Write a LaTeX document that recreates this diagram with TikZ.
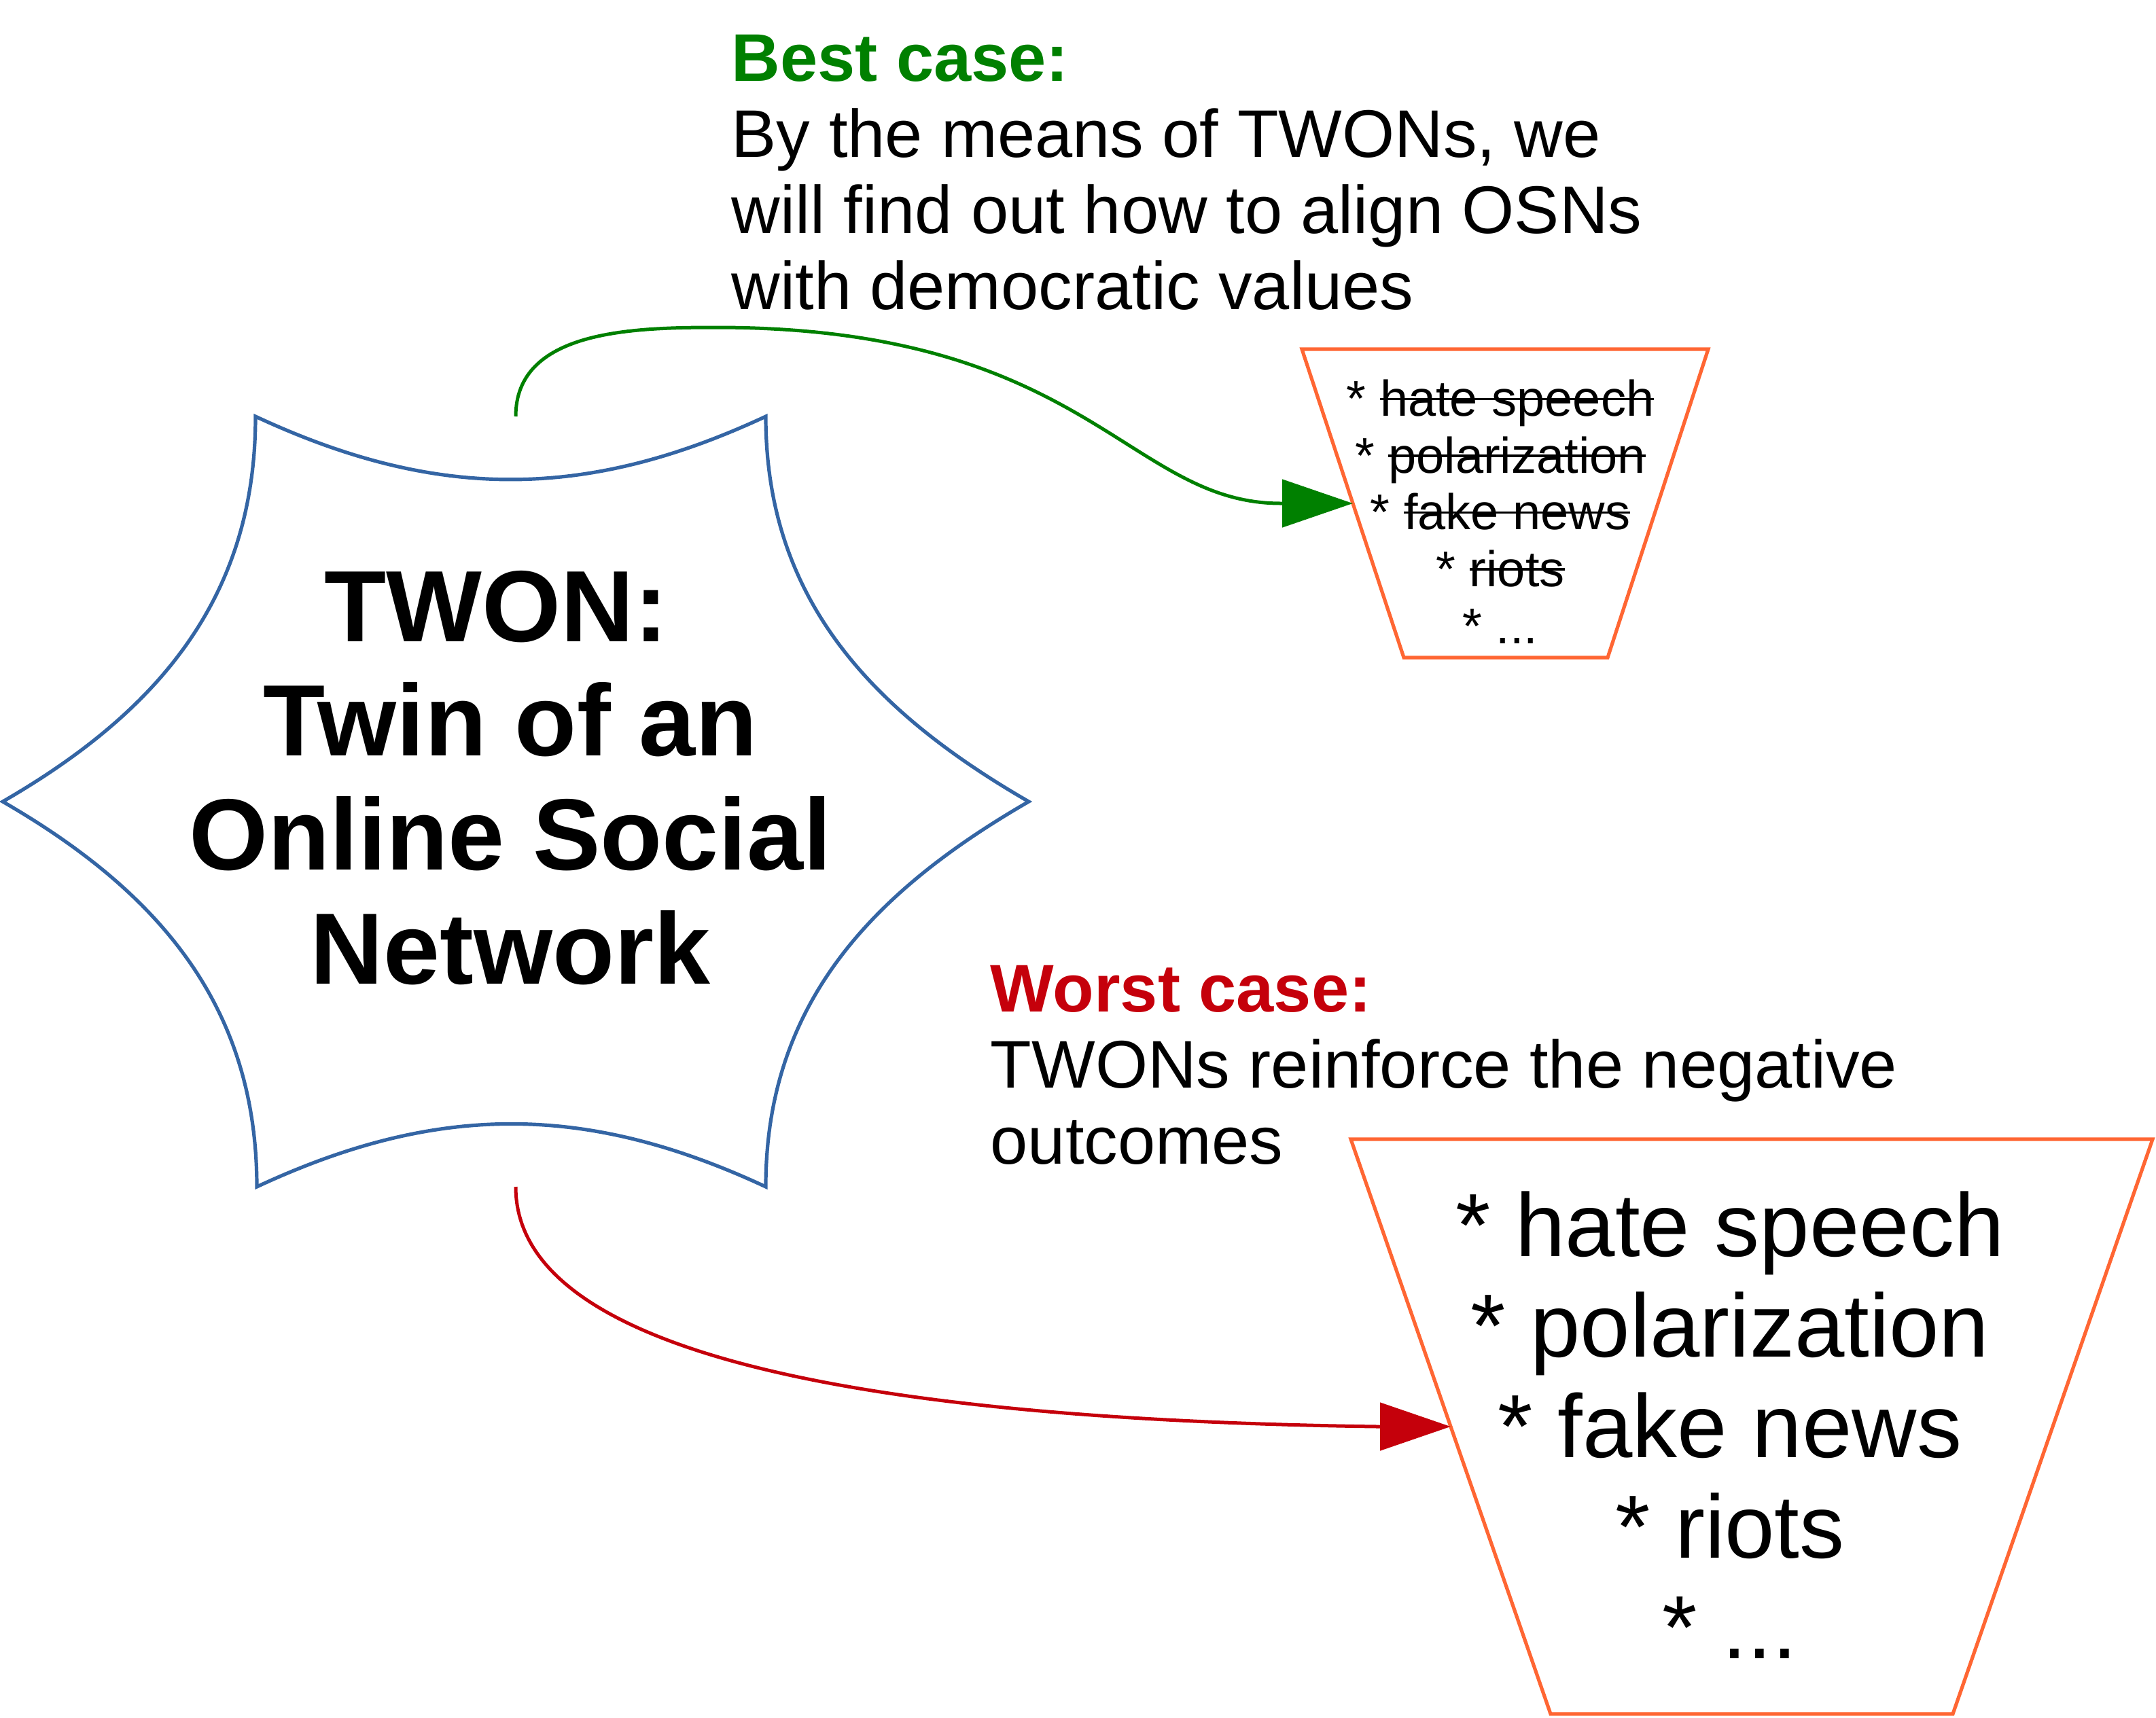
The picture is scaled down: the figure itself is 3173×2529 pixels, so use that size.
\documentclass[tikz,border=0pt]{standalone}
\usepackage{fontspec}
\setmainfont{Liberation Sans}
\usetikzlibrary{arrows.meta}
\definecolor{starblue}{HTML}{3465A4}
\definecolor{funnelorange}{HTML}{FF6633}
\definecolor{bestgreen}{HTML}{008000}
\definecolor{worstred}{HTML}{C5000B}
% crossed-out word, line through the middle of the lower case letters
\newcommand{\struck}[1]{\setbox0\hbox{#1}\rlap{\rule[0.32em]{\wd0}{0.045em}}\box0}

\begin{document}
\begin{tikzpicture}[x=0.25pt,y=0.25pt,
  funnel/.style={draw=funnelorange, line width=1.3pt},
  caseline/.style={line width=1.25pt, -{Triangle[length=26pt,width=17.5pt]}},
  txt/.style={inner sep=0pt}]
\useasboundingbox (0,0) rectangle (3173,-2529);

%star with six hollow sides
\draw [draw=starblue, line width=1.3pt] (376,-613) to[out=-25,in=205] (1127,-613) to[out=-90,in=150] (1514,-1180) to[out=210,in=90] (1127,-1747) to[out=155,in=25] (378,-1747) to[out=90,in=-30] (4,-1180) to[out=30,in=-90] cycle;
\coordinate (starTop) at (759,-613);
\coordinate (starBottom) at (759,-1747);
\node [txt, anchor=base, align=center, font=\fontsize{37.3}{42}\selectfont\bfseries] (twon) at (751,-1448) {TWON:\hbox{\ }\\Twin of an\\Online Social\\Network}; %base = last line

%best case
\node [txt, anchor=base west, align=left, font=\fontsize{24.8}{28}\selectfont] (bestText) at (1076,-455) {{\color{bestgreen}\bfseries Best case:}\\By the means of TWONs, we\\will find out how to align OSNs\\with democratic values};
\coordinate (bestTL) at (1916,-514);
\coordinate (bestTR) at (2514,-514);
\coordinate (bestBR) at (2366,-968);
\coordinate (bestBL) at (2066,-968);
\draw [funnel] (bestTL) -- (bestTR) -- (bestBR) -- (bestBL) -- cycle;
\coordinate (bestIn) at (1991,-741); %middle of the left side
\node [txt, anchor=base, align=center, font=\fontsize{18.5}{20.9}\selectfont] (bestList) at (2208,-947) {* \struck{hate speech}\\* \struck{polarization}\\* \struck{fake news}\\* \struck{riots}\\* ...};
\draw [caseline, draw=bestgreen] (starTop) .. controls (759,-487) and (928,-482) .. (1054,-482) .. controls (1600,-482) and (1660,-741) .. (1885,-741) -- (bestIn);

%worst case
\node [txt, anchor=base west, align=left, font=\fontsize{24.8}{28}\selectfont] (worstText) at (1457,-1713) {{\color{worstred}\bfseries Worst case:}\\TWONs reinforce the negative\\outcomes};
\coordinate (worstTL) at (1988,-1677);
\coordinate (worstTR) at (3168,-1677);
\coordinate (worstBR) at (2874,-2523);
\coordinate (worstBL) at (2282,-2523);
\draw [funnel] (worstTL) -- (worstTR) -- (worstBR) -- (worstBL) -- cycle;
\coordinate (worstIn) at (2135,-2100); %middle of the left side
\node [txt, anchor=base, align=center, font=\fontsize{33}{37}\selectfont] (worstList) at (2546,-2441) {* hate speech\\* polarization\\* fake news\\* riots\\* ...};
\draw [caseline, draw=worstred] (starBottom) .. controls (759,-2000) and (1300,-2090) .. (2027,-2100) -- (worstIn);
\end{tikzpicture}
\end{document}
